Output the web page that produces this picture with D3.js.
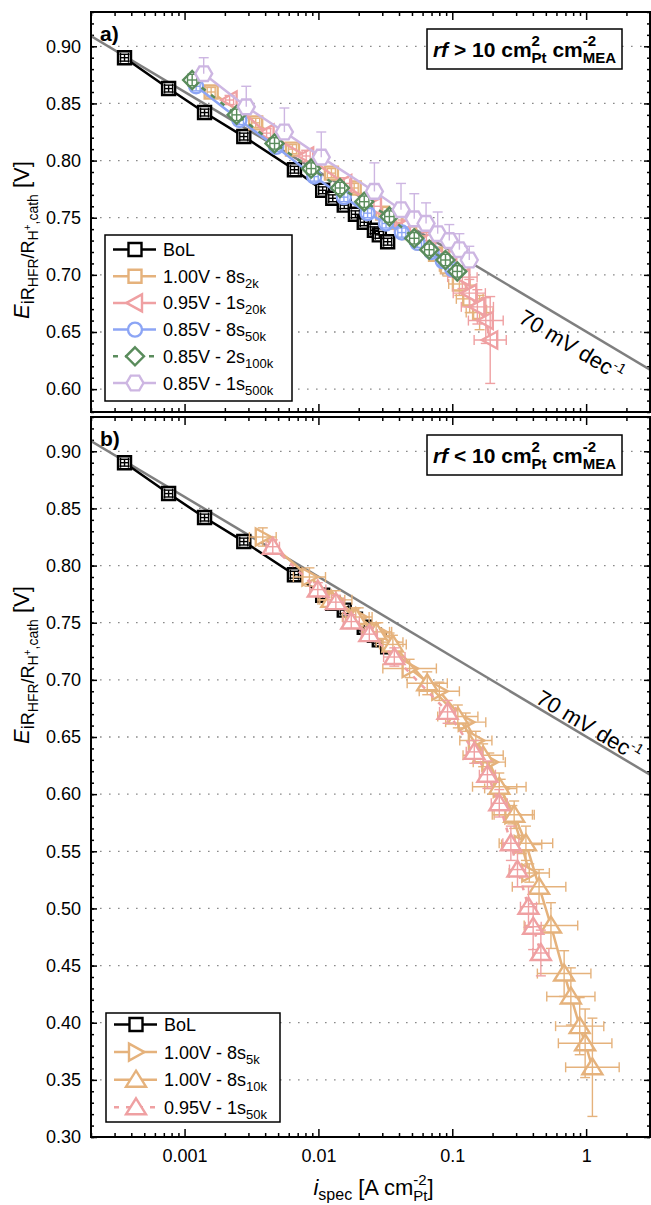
<!DOCTYPE html>
<html>
<head>
<meta charset="utf-8">
<script src="https://cdn.jsdelivr.net/npm/d3@7"></script>
<style>
  body { margin: 0; background: #fff; }
  svg text { font-family: "Liberation Sans", Arial, sans-serif; fill: #000; white-space: pre; }
</style>
</head>
<body>
<svg id="chart" width="651" height="1205"></svg>
<script>
// ---- data ----
const bolI = [0.000356, 0.00076, 0.00141, 0.00277, 0.00662, 0.01076, 0.0128, 0.0156, 0.0189, 0.022, 0.0262, 0.0285, 0.0329];
const bolE = [0.890, 0.863, 0.842, 0.821, 0.792, 0.774, 0.767, 0.761, 0.753, 0.746, 0.739, 0.735, 0.729];
const bolErrE = [0.003, 0.003, 0.003, 0.003, 0.003, 0.003, 0.003, 0.003, 0.003, 0.003, 0.003, 0.003, 0.003];
const bolErrX = [0.03, 0.03, 0.03, 0.03, 0.03, 0.03, 0.03, 0.03, 0.03, 0.03, 0.03, 0.03, 0.03];

// panel a
const v100s2kI = [0.00158, 0.0034, 0.0064, 0.0125, 0.0185, 0.0245, 0.0302, 0.038, 0.048, 0.06, 0.075, 0.092, 0.113, 0.135, 0.16];
const v100s2kE = [0.860, 0.833, 0.810, 0.789, 0.776, 0.765, 0.754, 0.746, 0.737, 0.728, 0.718, 0.707, 0.692, 0.679, 0.667];
const v100s2kErrE = [0.004, 0.004, 0.004, 0.004, 0.004, 0.004, 0.005, 0.005, 0.005, 0.006, 0.006, 0.008, 0.01, 0.012, 0.015];
const v100s2kErrX = [0.03, 0.03, 0.03, 0.03, 0.03, 0.03, 0.03, 0.04, 0.04, 0.05, 0.05, 0.06, 0.08, 0.1, 0.1];

const v095s20kI = [0.00217, 0.0041, 0.0081, 0.0156, 0.026, 0.0424, 0.064, 0.095, 0.119, 0.134, 0.154, 0.178, 0.192];
const v095s20kE = [0.853, 0.824, 0.804, 0.780, 0.760, 0.742, 0.730, 0.716, 0.698, 0.684, 0.672, 0.660, 0.643];
const v095s20kErrE = [0.004, 0.004, 0.005, 0.005, 0.006, 0.006, 0.007, 0.008, 0.01, 0.012, 0.015, 0.02, 0.038];
const v095s20kErrX = [0.03, 0.03, 0.03, 0.04, 0.05, 0.06, 0.07, 0.09, 0.11, 0.12, 0.12, 0.13, 0.12];

const v085s50kI = [0.00122, 0.00257, 0.00483, 0.0093, 0.0155, 0.0233, 0.032, 0.042, 0.055, 0.07, 0.085, 0.1];
const v085s50kE = [0.865, 0.8355, 0.812, 0.786, 0.768, 0.754, 0.745, 0.737, 0.728, 0.720, 0.712, 0.705];
const v085s50kErrE = [0.004, 0.004, 0.004, 0.004, 0.004, 0.004, 0.004, 0.004, 0.004, 0.004, 0.004, 0.004];
const v085s50kErrX = [0.03, 0.03, 0.03, 0.03, 0.03, 0.03, 0.03, 0.03, 0.03, 0.03, 0.03, 0.03];

const v085s100kI = [0.00114, 0.00245, 0.0047, 0.00883, 0.0145, 0.022, 0.0339, 0.052, 0.0673, 0.089, 0.109];
const v085s100kE = [0.8705, 0.840, 0.815, 0.793, 0.776, 0.764, 0.751, 0.732, 0.722, 0.713, 0.703];
const v085s100kErrE = [0.005, 0.005, 0.005, 0.005, 0.005, 0.005, 0.005, 0.005, 0.005, 0.005, 0.005];
const v085s100kErrX = [0.035, 0.035, 0.035, 0.035, 0.035, 0.035, 0.035, 0.035, 0.035, 0.035, 0.035];

const v085s500kI = [0.00139, 0.00289, 0.00557, 0.0105, 0.0262, 0.0414, 0.052, 0.0637, 0.0778, 0.095, 0.113, 0.134];
const v085s500kE = [0.876, 0.847, 0.825, 0.803, 0.773, 0.757, 0.749, 0.745, 0.736, 0.730, 0.722, 0.713];
const v085s500kErrUp = [0.014, 0.018, 0.021, 0.022, 0.025, 0.023, 0.022, 0.018, 0.019, 0.014, 0.014, 0.012];

// panel b
const v100s5kI = [0.00384, 0.00857, 0.0135, 0.02, 0.028, 0.034, 0.048, 0.08, 0.126, 0.15, 0.189, 0.23, 0.281, 0.33, 0.376];
const v100s5kE = [0.825, 0.790, 0.770, 0.755, 0.742, 0.733, 0.710, 0.690, 0.663, 0.647, 0.628, 0.605, 0.582, 0.556, 0.531];
const v100s5kErrE = [0.008, 0.008, 0.008, 0.008, 0.008, 0.008, 0.008, 0.008, 0.008, 0.008, 0.008, 0.008, 0.008, 0.008, 0.008];
const v100s5kErrX = [0.1, 0.12, 0.12, 0.1, 0.1, 0.1, 0.2, 0.15, 0.15, 0.12, 0.12, 0.12, 0.15, 0.15, 0.15];

const v100s10kI = [0.0125, 0.019, 0.027, 0.036, 0.065, 0.11, 0.17, 0.2245, 0.29, 0.355, 0.445, 0.546, 0.685, 0.769, 0.895, 0.983, 1.114];
const v100s10kE = [0.770, 0.755, 0.742, 0.731, 0.697, 0.668, 0.634, 0.6065, 0.582, 0.557, 0.519, 0.485, 0.443, 0.423, 0.397, 0.382, 0.361];
const v100s10kErrE = [0.008, 0.008, 0.008, 0.008, 0.01, 0.01, 0.01, 0.012, 0.012, 0.015, 0.015, 0.02, 0.02, 0.025, 0.025, 0.03, 0.043];
const v100s10kErrX = [0.1, 0.1, 0.1, 0.1, 0.15, 0.15, 0.15, 0.2, 0.15, 0.2, 0.2, 0.2, 0.2, 0.18, 0.18, 0.2, 0.2];

const v095s50kI = [0.00456, 0.0099, 0.0135, 0.0176, 0.024, 0.0369, 0.0922, 0.146, 0.183, 0.2245, 0.274, 0.307, 0.371, 0.402, 0.459];
const v095s50kE = [0.8165, 0.779, 0.768, 0.751, 0.740, 0.720, 0.672, 0.637, 0.617, 0.592, 0.557, 0.534, 0.5015, 0.484, 0.461];
const v095s50kErrE = [0.006, 0.006, 0.006, 0.006, 0.006, 0.008, 0.01, 0.01, 0.012, 0.012, 0.015, 0.015, 0.018, 0.02, 0.02];
const v095s50kErrX = [0.05, 0.06, 0.06, 0.06, 0.06, 0.08, 0.06, 0.06, 0.06, 0.06, 0.06, 0.06, 0.06, 0.06, 0.06];

// 70 mV/dec reference line
const refI = [0.0002, 3];
const refE = [0.909, 0.617];

const xMajor = [0.001, 0.01, 0.1, 1];
const xMajorLabels = ["0.001", "0.01", "0.1", "1"];
const yMajorA = [0.60, 0.65, 0.70, 0.75, 0.80, 0.85, 0.90];
const yMajorB = [0.30, 0.35, 0.40, 0.45, 0.50, 0.55, 0.60, 0.65, 0.70, 0.75, 0.80, 0.85, 0.90];

// ---- layout ----
const svg = d3.select("#chart");
const left = 91, right = 650;
const x = d3.scaleLog().domain([0.0002, 3]).range([left, right]);

const C = {
  bol: "#000000",
  orange: "#E5B27C",
  pink: "#EFA0A2",
  blue: "#8CA5F5",
  green: "#5A8C5C",
  purple: "#CDB6E2"
};

const mk = (name, sub, I, E, eE, eX, color, shape, dash, upOnly) =>
  ({ name, sub, pts: I.map((v, k) => ({ i: v, E: E[k], eE: eE ? eE[k] : 0, eX: eX ? eX[k] : 0 })), color, shape, dash, upOnly });

const seriesA = [
  mk("BoL", "", bolI, bolE, bolErrE, bolErrX, C.bol, "square", null),
  mk("1.00V - 8s", "2k", v100s2kI, v100s2kE, v100s2kErrE, v100s2kErrX, C.orange, "square", null),
  mk("0.95V - 1s", "20k", v095s20kI, v095s20kE, v095s20kErrE, v095s20kErrX, C.pink, "left", null),
  mk("0.85V - 8s", "50k", v085s50kI, v085s50kE, v085s50kErrE, v085s50kErrX, C.blue, "circle", null),
  mk("0.85V - 2s", "100k", v085s100kI, v085s100kE, v085s100kErrE, v085s100kErrX, C.green, "diamond", "5,7"),
  mk("0.85V - 1s", "500k", v085s500kI, v085s500kE, v085s500kErrUp, null, C.purple, "hex", null, true)
];
const seriesB = [
  mk("BoL", "", bolI, bolE, bolErrE, bolErrX, C.bol, "square", null),
  mk("1.00V - 8s", "5k", v100s5kI, v100s5kE, v100s5kErrE, v100s5kErrX, C.orange, "right", null),
  mk("1.00V - 8s", "10k", v100s10kI, v100s10kE, v100s10kErrE, v100s10kErrX, C.orange, "up", null),
  mk("0.95V - 1s", "50k", v095s50kI, v095s50kE, v095s50kErrE, v095s50kErrX, C.pink, "up", "5,7")
];

const panels = [
  { key: "a", top: 12, bottom: 412, dom: [0.58, 0.93], major: yMajorA, series: seriesA,
    legend: { x: 105, y: 235, w: 187, h: 166, row0: 249.5, step: 26.7 },
    noteSym: ">", box: { x: 427, y: 29, w: 195, h: 40 },
    refX: 531, refOff: 27, yLabelC: 240 },
  { key: "b", top: 417, bottom: 1137, dom: [0.30, 0.93], major: yMajorB, series: seriesB,
    legend: { x: 106, y: 1013, w: 174, h: 109, row0: 1024.5, step: 27.6 },
    noteSym: "<", box: { x: 427, y: 435, w: 195, h: 40 },
    refX: 533, refOff: -3, yLabelC: 665 }
];

function shapePath(s) {
  switch (s) {
    case "square": return "M-6.5,-6.5H6.5V6.5H-6.5Z";
    case "left": return "M-8.5,0L7,-8.5L7,8.5Z";
    case "right": return "M8.5,0L-7,-8.5L-7,8.5Z";
    case "up": return "M0,-9L10,7L-10,7Z";
    case "circle": return "M7,0A7,7 0 1,1 -7,0A7,7 0 1,1 7,0Z";
    case "diamond": return "M0,-9L9,0L0,9L-9,0Z";
    case "hex": {
      const r = 8.5;
      return d3.range(6).map(k => {
        const a = k * Math.PI / 3;
        return (k ? "L" : "M") + (r * Math.cos(a)).toFixed(2) + "," + (r * Math.sin(a)).toFixed(2);
      }).join("") + "Z";
    }
  }
}

// places text pieces one after another; a "hold" piece shares its x with the next one (stacked sup/sub)
function richText(parent, segs) {
  const g = parent.append("g");
  let cx = 0, held = 0;
  segs.forEach(s => {
    const t = g.append("text")
      .attr("x", cx).attr("y", s.dy || 0)
      .attr("xml:space", "preserve")
      .style("font-size", s.fs + "px")
      .style("font-weight", s.bold ? "bold" : "normal")
      .style("font-style", s.italic ? "italic" : "normal")
      .text(s.t);
    const w = t.node().getComputedTextLength();
    if (s.hold) held = w; else { cx += Math.max(w, held); held = 0; }
  });
  return { g, width: cx };
}

const yTickFmt = d3.format(".2f");

panels.forEach((p, pi) => {
  const y = d3.scaleLinear().domain(p.dom).range([p.bottom, p.top]);
  const g = svg.append("g");

  const clipId = "clip" + p.key;
  svg.append("clipPath").attr("id", clipId)
    .append("rect").attr("x", left).attr("y", p.top).attr("width", right - left).attr("height", p.bottom - p.top);

  // dotted grid
  g.append("g").selectAll("line")
    .data(p.major.filter(v => v > p.dom[0] + 1e-6))
    .join("line")
    .attr("x1", left).attr("x2", right)
    .attr("y1", d => y(d)).attr("y2", d => y(d))
    .attr("stroke", "#8a8a8a").attr("stroke-width", 1.3)
    .attr("stroke-dasharray", "1.6,7.4");

  // axes with inward ticks
  const yMinor = d3.range(Math.round(p.dom[0] * 100), Math.round(p.dom[1] * 100) + 1).map(v => v / 100);
  const xMinor = x.ticks().filter(v => !xMajor.some(m => Math.abs(m - v) / m < 1e-6));

  const axisG = (axis, tr) => {
    const a = g.append("g").attr("transform", tr).call(axis);
    a.select(".domain").remove();
    a.selectAll("line").attr("stroke", "#000").attr("stroke-width", 1.5);
    a.selectAll("text").style("font-size", "18px").style("font-family", "'Liberation Sans', Arial, sans-serif");
    return a;
  };
  axisG(d3.axisLeft(y).tickValues(p.major).tickSize(-6).tickPadding(10).tickFormat(yTickFmt), `translate(${left},0)`);
  axisG(d3.axisLeft(y).tickValues(yMinor).tickSize(-3).tickFormat(""), `translate(${left},0)`);
  axisG(d3.axisRight(y).tickValues(p.major).tickSize(-6).tickFormat(""), `translate(${right},0)`);
  axisG(d3.axisRight(y).tickValues(yMinor).tickSize(-3).tickFormat(""), `translate(${right},0)`);
  axisG(d3.axisTop(x).tickValues(xMajor).tickSize(-8).tickFormat(""), `translate(0,${p.top})`);
  axisG(d3.axisTop(x).tickValues(xMinor).tickSize(-4).tickFormat(""), `translate(0,${p.top})`);
  axisG(d3.axisBottom(x).tickValues(xMajor).tickSize(-8).tickPadding(12)
    .tickFormat((d, k) => pi === 1 ? xMajorLabels[k] : ""), `translate(0,${p.bottom})`);
  axisG(d3.axisBottom(x).tickValues(xMinor).tickSize(-4).tickFormat(""), `translate(0,${p.bottom})`);

  const plot = g.append("g").attr("clip-path", `url(#${clipId})`);

  // 70 mV/dec line
  const refPts = refI.map((v, k) => [x(v), y(refE[k])]);
  plot.append("path").attr("d", d3.line()(refPts))
    .attr("stroke", "#7f7f7f").attr("stroke-width", 2.5).attr("fill", "none");

  const line = d3.line().x(d => x(d.i)).y(d => y(d.E));
  p.series.forEach(s => {
    const sg = plot.append("g");
    sg.append("path").attr("d", line(s.pts))
      .attr("fill", "none").attr("stroke", s.color).attr("stroke-width", 2.5)
      .attr("stroke-dasharray", s.dash);
    sg.selectAll("path.m").data(s.pts).join("path").attr("class", "m")
      .attr("d", shapePath(s.shape))
      .attr("transform", d => `translate(${x(d.i)},${y(d.E)})`)
      .attr("fill", "#fff").attr("stroke", s.color).attr("stroke-width", 2.4);
    // error bars
    const eb = sg.append("g").attr("stroke", s.color).attr("stroke-width", 1.4).attr("fill", "none");
    s.pts.forEach(d => {
      const cx = x(d.i), cy = y(d.E);
      if (d.eE > 0) {
        const y1 = y(d.E + d.eE), y0 = s.upOnly ? cy : y(d.E - d.eE);
        eb.append("line").attr("x1", cx).attr("x2", cx).attr("y1", y0).attr("y2", y1);
        eb.append("line").attr("x1", cx - 5).attr("x2", cx + 5).attr("y1", y1).attr("y2", y1);
        if (!s.upOnly) eb.append("line").attr("x1", cx - 5).attr("x2", cx + 5).attr("y1", y0).attr("y2", y0);
      }
      if (d.eX > 0) {
        const xa = x(d.i * Math.pow(10, -d.eX)), xb = x(d.i * Math.pow(10, d.eX));
        eb.append("line").attr("x1", xa).attr("x2", xb).attr("y1", cy).attr("y2", cy);
        eb.append("line").attr("x1", xa).attr("x2", xa).attr("y1", cy - 5).attr("y2", cy + 5);
        eb.append("line").attr("x1", xb).attr("x2", xb).attr("y1", cy - 5).attr("y2", cy + 5);
      }
    });
  });

  // slope label along the reference line
  const ang = Math.atan2(refPts[1][1] - refPts[0][1], refPts[1][0] - refPts[0][0]);
  const eAt = refE[0] + (refE[1] - refE[0]) * (Math.log10(x.invert(p.refX)) - Math.log10(refI[0])) / (Math.log10(refI[1]) - Math.log10(refI[0]));
  const lbl = richText(g, [
    { t: "70 mV dec", fs: 22 },
    { t: "-1", fs: 14, dy: -9 }
  ]);
  lbl.g.attr("transform", `translate(${p.refX},${y(eAt)}) rotate(${ang * 180 / Math.PI}) translate(0,${p.refOff})`);

  // frame
  g.append("rect").attr("x", left).attr("y", p.top).attr("width", right - left).attr("height", p.bottom - p.top)
    .attr("fill", "none").attr("stroke", "#000").attr("stroke-width", 2);

  // panel letter
  g.append("text").attr("x", 100).attr("y", p.top + 29)
    .style("font-size", "21px").style("font-weight", "bold").text(p.key + ")");

  // rf note box
  g.append("rect").attr("x", p.box.x).attr("y", p.box.y).attr("width", p.box.w).attr("height", p.box.h)
    .attr("fill", "#fff").attr("stroke", "#000").attr("stroke-width", 1.5);
  const note = richText(g, [
    { t: "rf", fs: 21, bold: true, italic: true },
    { t: " " + p.noteSym + " 10 cm", fs: 21, bold: true },
    { t: "2", fs: 15, bold: true, dy: -11, hold: true },
    { t: "Pt", fs: 15, bold: true, dy: 6 },
    { t: " cm", fs: 21, bold: true },
    { t: "-2", fs: 15, bold: true, dy: -11, hold: true },
    { t: "MEA", fs: 15, bold: true, dy: 6 }
  ]);
  note.g.attr("transform", `translate(${p.box.x + p.box.w / 2 - note.width / 2},${p.box.y + 27.5})`);

  // legend
  const L = p.legend;
  const lg = g.append("g");
  lg.append("rect").attr("x", L.x).attr("y", L.y).attr("width", L.w).attr("height", L.h)
    .attr("fill", "#fff").attr("stroke", "#000").attr("stroke-width", 1.5);
  p.series.forEach((s, k) => {
    const cy = L.row0 + k * L.step;
    lg.append("line").attr("x1", L.x + 8).attr("x2", L.x + 51).attr("y1", cy).attr("y2", cy)
      .attr("stroke", s.color).attr("stroke-width", 2.5).attr("stroke-dasharray", s.dash);
    lg.append("path").attr("d", shapePath(s.shape)).attr("transform", `translate(${L.x + 30},${cy})`)
      .attr("fill", "#fff").attr("stroke", s.color).attr("stroke-width", 2.4);
    const segs = [{ t: s.name, fs: 18 }];
    if (s.sub) segs.push({ t: s.sub, fs: 13, dy: 5 });
    const t = richText(lg, segs);
    t.g.attr("transform", `translate(${L.x + 58},${cy + 6.5})`);
  });

  // y axis title
  const yl = richText(g, [
    { t: "E", fs: 22, italic: true },
    { t: "iR", fs: 18, dy: 5 },
    { t: "HFR", fs: 14, dy: 9 },
    { t: "/R", fs: 18, dy: 5 },
    { t: "H", fs: 14, dy: 9 },
    { t: "+", fs: 10, dy: 2 },
    { t: ",cath", fs: 14, dy: 9 },
    { t: " [V]", fs: 22 }
  ]);
  yl.g.attr("transform", `translate(29,${p.yLabelC + yl.width / 2}) rotate(-90)`);
});

// x axis title
const xl = richText(svg, [
  { t: "i", fs: 22, italic: true },
  { t: "spec", fs: 16, dy: 5 },
  { t: " [A cm", fs: 22 },
  { t: "-2", fs: 15, dy: -10, hold: true },
  { t: "Pt", fs: 15, dy: 6 },
  { t: "]", fs: 22 }
]);
xl.g.attr("transform", `translate(${(left + right) / 2 - xl.width / 2 + 3},1195)`);
</script>
</body>
</html>
